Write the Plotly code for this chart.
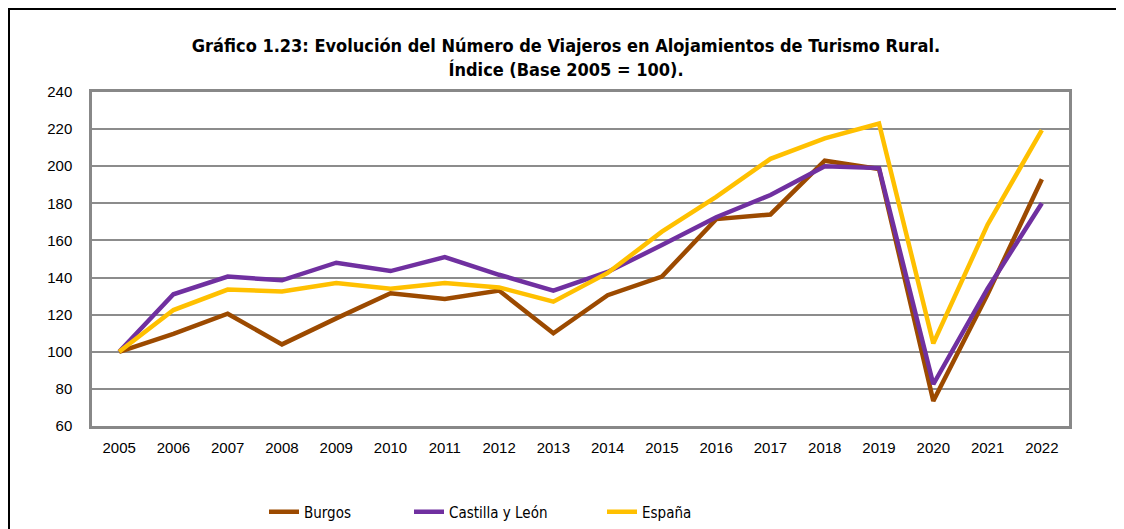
import plotly.graph_objects as go

years = [str(y) for y in range(2005, 2023)]
burgos = [100, 109.6, 120.5, 104, 118, 131.5, 128.5, 133, 110, 130.5, 140.5, 171.5, 174, 203, 198.5, 73.5, 131, 193]
cyl = [100, 131, 140.5, 138.5, 148, 143.5, 151, 141.5, 133, 143, 157.5, 172.5, 184.5, 200, 199, 82.5, 134, 180]
espana = [100, 122.5, 133.5, 132.5, 137, 134, 137, 134.7, 127, 142.5, 164.7, 183.5, 204, 215, 223, 104.5, 168.5, 219.5]
series_names = ["Burgos", "Castilla y León", "España"]
colors = ["#9C4A00", "#7030A0", "#FFC000"]
y_ticks = list(range(60, 241, 20))

# page has an 8px body margin; plot area target on page: x 92..1069, y 92..426
PW, PH = 977.0, 334.0
CH = 521.0
def px_x(X):
    return (X - 92) / PW
def px_y(Y):
    return (426 - Y) / PH
def cont_y(Y):
    return (8 + CH - Y) / CH

legend_keys = ["legend", "legend2", "legend3"]
legend_text_px = [304, 449, 642]

fig = go.Figure()
for name, vals, col, lk in zip(series_names, [burgos, cyl, espana], colors, legend_keys):
    fig.add_trace(go.Scatter(x=years, y=vals, name=name, mode="lines",
                             line=dict(color=col, width=4.5), legend=lk))

legend_font = dict(family="DejaVu Sans Condensed, DejaVu Sans", size=15, color="black")
legend_layouts = {}
for lk, tx in zip(legend_keys, legend_text_px):
    legend_layouts[lk] = dict(orientation="h", x=px_x(tx - 40), xanchor="left", xref="paper",
                              y=cont_y(512), yanchor="middle", yref="container",
                              font=legend_font, bgcolor="rgba(0,0,0,0)")

fig.update_layout(
    width=1116, height=521,
    paper_bgcolor="white", plot_bgcolor="white",
    margin=dict(l=84, r=55, t=84, b=103),
    title=dict(
        text="<b>Gráfico 1.23: Evolución del Número de Viajeros en Alojamientos de Turismo Rural.<br>Índice (Base 2005 = 100).</b>",
        x=0.5, xanchor="center", xref="container", y=0.915, yanchor="middle",
        font=dict(family="DejaVu Sans Condensed, DejaVu Sans", size=18, color="black"),
    ),
    xaxis=dict(type="category", range=[-0.5, 17.5], showgrid=False, showline=True, linecolor="#888888",
               linewidth=2.5, mirror=True, ticks="", ticklabelstandoff=6,
               tickfont=dict(family="Liberation Sans, Arial", size=15, color="black")),
    yaxis=dict(range=[60, 240], tickvals=y_ticks, showgrid=True, gridcolor="#8c8c8c", gridwidth=1.5,
               showline=True, linecolor="#888888", linewidth=2.5, mirror=True, zeroline=False, ticks="",
               tickfont=dict(family="Liberation Sans, Arial", size=15, color="black"), ticklabelstandoff=14),
    showlegend=True,
    **legend_layouts,
)
fig.add_shape(type="rect", xref="paper", yref="paper", x0=px_x(9), x1=px_x(1120),
              y0=-0.4, y1=px_y(9),
              line=dict(color="black", width=2), fillcolor="rgba(0,0,0,0)", layer="below")
fig.write_html("out.html")
